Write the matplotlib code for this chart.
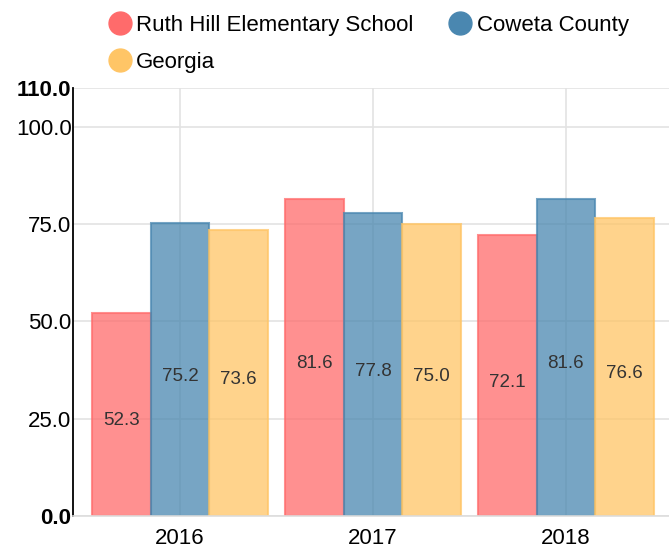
import matplotlib
matplotlib.use("Agg")
import matplotlib.pyplot as plt
from matplotlib.lines import Line2D
import numpy as np

plt.rcParams['font.family'] = ['Liberation Sans', 'DejaVu Sans']

# data
years = ['2016', '2017', '2018']
series_names = ['Ruth Hill Elementary School', 'Coweta County', 'Georgia']
ruth_hill = [52.3, 81.6, 72.1]
coweta = [75.2, 77.8, 81.6]
georgia = [73.6, 75.0, 76.6]
y_ticks = [0, 25, 50, 75, 100, 110]

edge_colors = ['#FF6B6B', '#4A87B0', '#FFC566']

fig = plt.figure(figsize=(6.69, 5.5), dpi=100)
ax = fig.add_axes([73/669, 34/550, 1 - 73/669, (516 - 88)/550])

x = np.arange(len(years))
w = 0.303
for i, vals in enumerate([ruth_hill, coweta, georgia]):
    pos = x + (i - 1) * w
    ax.bar(pos, vals, width=w, color=edge_colors[i], alpha=0.75,
           edgecolor=edge_colors[i], linewidth=1.5, zorder=2)
    for p, v in zip(pos, vals):
        # labels sit a little below the bar's middle
        ax.text(p, v / 2 - 1.7, f'{v:.1f}', ha='center', va='center',
                fontsize=13.5, color='#333333', zorder=3)

ax.set_xlim(-0.554, 2.534)
ax.set_ylim(0, 110)
ax.set_xticks(x)
ax.set_xticklabels(years, fontsize=16)
ax.set_yticks(y_ticks)
ax.set_yticklabels([f'{t:.1f}' for t in y_ticks], fontsize=16)
for lbl in ax.get_yticklabels():
    if lbl.get_text() in ('0.0', '110.0'):
        lbl.set_fontweight('bold')
ax.tick_params(axis='y', length=0, pad=1)
ax.tick_params(axis='x', length=0, pad=9)

ax.grid(True, color='#e3e3e3', linewidth=1.2, zorder=0)
ax.set_axisbelow(True)
for s in ['top', 'right']:
    ax.spines[s].set_visible(False)
ax.spines['left'].set_color('black')
ax.spines['left'].set_linewidth(1.3)
ax.spines['bottom'].set_color('#dddddd')
ax.spines['bottom'].set_linewidth(1.2)

# legend (row-major order)
handles = [Line2D([], [], marker='o', linestyle='none', markersize=16.5,
                  markerfacecolor=c, markeredgecolor=c) for c in edge_colors]
order = [0, 2, 1]
fig.legend([handles[i] for i in order], [series_names[i] for i in order],
           loc='upper left', bbox_to_anchor=(109/669, 1 - 15/550), ncol=2,
           frameon=False, fontsize=16, handlelength=1.0, handletextpad=0.23,
           columnspacing=1.6, labelspacing=0.72, borderpad=0,
           borderaxespad=0)

fig.savefig('out.png', dpi=100)
